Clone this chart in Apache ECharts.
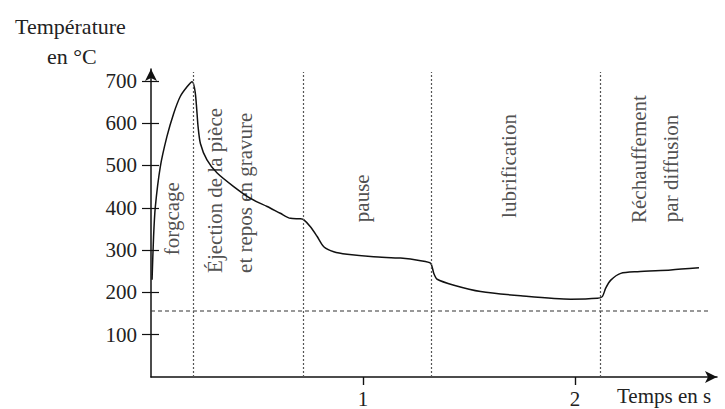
<!DOCTYPE html>
<html>
<head>
<meta charset="utf-8">
<script src="https://cdn.jsdelivr.net/npm/echarts@6/dist/echarts.min.js"></script>
<style>
html,body{margin:0;padding:0;background:#fff;}
#c{width:725px;height:409px;}
</style>
</head>
<body>
<div id="c"></div>
<script>
// ---- data ----
const timeS = [0.005, 0.012, 0.02, 0.044, 0.075, 0.107, 0.138, 0.17, 0.194, 0.209, 0.222, 0.233, 0.264, 0.312, 0.39, 0.469, 0.548, 0.61, 0.658, 0.705, 0.72, 0.752, 0.784, 0.815, 0.862, 0.925, 1.05, 1.177, 1.272, 1.319, 1.334, 1.35, 1.429, 1.555, 1.744, 1.98, 2.106, 2.129, 2.145, 2.169, 2.216, 2.295, 2.452, 2.585];
const tempC = [230, 330, 400, 497, 568, 623, 663, 686, 698, 671, 592, 552, 513, 482, 450, 422, 403, 387, 375, 374, 372, 355, 332, 308, 296, 290, 284, 281, 275, 269, 245, 231, 217, 202, 192, 184, 186, 190, 210, 229, 245, 249, 253, 258];
const yTicks = [100, 200, 300, 400, 500, 600, 700];
const xTicks = [1, 2];
const phaseBounds = [0.2, 0.72, 1.32, 2.12];
const phaseTop = 721;
const thresholdTemp = 156;
const thresholdEnd = 2.64;
const phaseLabels = ['forgcage', 'Éjection de la pièce', 'et repos en gravure', 'pause', 'lubrification', 'Réchauffement', 'par diffusion'];
const phaseLabelT = [0.099, 0.304, 0.445, 0.996, 1.687, 2.30, 2.452];
const phaseLabelTemp = [288, 246, 246, 366, 376, 364, 366];
const yTitle = ['Température', 'en °C'];
const xTitle = 'Temps en s';

const FONT = 'Liberation Serif';
const chart = echarts.init(document.getElementById('c'), null, {renderer: 'svg'});
const axisBase = {type: 'value', splitLine: {show: false}};
chart.setOption({
  animation: false,
  backgroundColor: '#fff',
  grid: {left: 151, right: 8, top: 69, bottom: 32},
  xAxis: [
    Object.assign({}, axisBase, {
      min: 0, max: 2.67,
      axisLine: {lineStyle: {color: '#111', width: 1.5}, symbol: ['none', 'arrow'], symbolSize: [9, 12]},
      axisTick: {customValues: xTicks, length: 8, lineStyle: {color: '#111', width: 1.2}},
      axisLabel: {customValues: xTicks, margin: 11, fontFamily: FONT, fontSize: 21, color: '#222'}
    }),
    Object.assign({}, axisBase, {
      min: 0, max: 2.67,
      axisLine: {show: false},
      axisTick: {customValues: xTicks, inside: true, length: 8, lineStyle: {color: '#111', width: 1.2}},
      axisLabel: {show: false}
    })
  ],
  yAxis: [
    Object.assign({}, axisBase, {
      min: 0, max: 728,
      axisLine: {lineStyle: {color: '#111', width: 1.5}, symbol: ['none', 'arrow'], symbolSize: [9, 12]},
      axisTick: {customValues: yTicks, length: 9, lineStyle: {color: '#111', width: 1.2}},
      axisLabel: {customValues: yTicks, margin: 14, fontFamily: FONT, fontSize: 21, color: '#222'}
    }),
    Object.assign({}, axisBase, {
      min: 0, max: 728,
      position: 'left',
      axisLine: {show: false},
      axisTick: {customValues: yTicks, inside: true, length: 8, lineStyle: {color: '#111', width: 1.2}},
      axisLabel: {show: false}
    })
  ],
  graphic: [
    {type: 'text', left: 15, top: 15, style: {text: yTitle[0], font: '22px "Liberation Serif"', fill: '#222'}},
    {type: 'text', left: 47, top: 45, style: {text: yTitle[1], font: '22px "Liberation Serif"', fill: '#222'}},
    {type: 'text', left: 617, top: 385, style: {text: xTitle, font: '21px "Liberation Serif"', fill: '#222'}}
  ],
  series: [
    {
      type: 'line', name: 'phases', data: [], silent: true,
      markLine: {
        symbol: ['none', 'none'], silent: true, label: {show: false},
        lineStyle: {color: '#555', type: [2, 2], width: 1.2},
        data: phaseBounds.map(b => [{coord: [b, 0]}, {coord: [b, phaseTop]}])
      }
    },
    {
      type: 'line', name: 'seuil', symbol: 'none', silent: true,
      lineStyle: {color: '#333', type: [4, 3], width: 1.2},
      data: [[0, thresholdTemp], [thresholdEnd, thresholdTemp]]
    },
    {
      type: 'line', name: 'température', symbol: 'none', smooth: 0.25,
      lineStyle: {color: '#111', width: 1.5},
      data: timeS.map((t, i) => [t, tempC[i]])
    },
    {
      type: 'scatter', name: 'labels', symbolSize: 0, silent: true,
      label: {
        show: true, position: [0, 0], rotate: 90, align: 'left', verticalAlign: 'middle',
        fontFamily: FONT, fontSize: 21, color: '#222',
        formatter: p => phaseLabels[p.dataIndex]
      },
      data: phaseLabelT.map((t, i) => [t, phaseLabelTemp[i]])
    }
  ]
});
</script>
</body>
</html>
